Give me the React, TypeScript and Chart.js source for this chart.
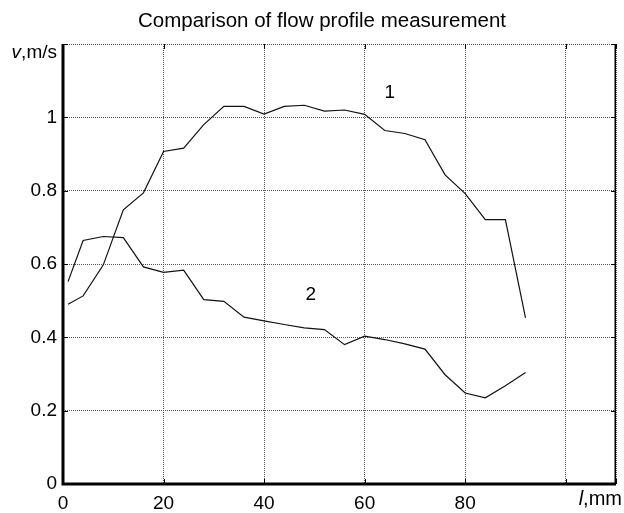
import React, { useEffect, useRef } from "react";
import { Chart, registerables } from "chart.js";

Chart.register(...registerables);

const xValues = [1, 4, 8, 12, 16, 20, 24, 28, 32, 36, 40, 44, 48, 52, 56, 60, 64, 68, 72, 76, 80, 84, 88, 92];
const series1 = [0.49, 0.513, 0.597, 0.748, 0.794, 0.907, 0.916, 0.98, 1.03, 1.03, 1.009, 1.03, 1.033, 1.017, 1.02, 1.008, 0.964, 0.956, 0.939, 0.843, 0.792, 0.721, 0.721, 0.453];
const series2 = [0.552, 0.664, 0.675, 0.672, 0.592, 0.577, 0.583, 0.503, 0.498, 0.455, 0.445, 0.435, 0.426, 0.421, 0.38, 0.403, 0.394, 0.382, 0.368, 0.298, 0.248, 0.235, 0.268, 0.304];
const xTickLabels = ["0", "20", "40", "60", "80"];
const yTickLabels = ["0", "0.2", "0.4", "0.6", "0.8", "1"];
const titleText = "Comparison of flow profile measurement";
const curveLabels = [
  { text: "1", x: 65, y: 1.053 },
  { text: "2", x: 49.3, y: 0.503 },
];

const FONT = "'Liberation Sans', Arial, Helvetica, sans-serif";

const decorPlugin = {
  id: "decor",
  afterDraw(chart: any) {
    const { ctx, chartArea } = chart;
    const xs = chart.scales.x;
    const ys = chart.scales.y;
    ctx.save();
    // inner tick marks on all sides
    ctx.strokeStyle = "#000";
    ctx.lineWidth = 1;
    const tl = 5;
    xs.ticks.forEach((t: any) => {
      const px = Math.round(xs.getPixelForValue(t.value)) + 0.5;
      ctx.beginPath();
      ctx.moveTo(px, chartArea.bottom);
      ctx.lineTo(px, chartArea.bottom - tl);
      ctx.moveTo(px, chartArea.top);
      ctx.lineTo(px, chartArea.top + tl);
      ctx.stroke();
    });
    ys.ticks.forEach((t: any) => {
      const py = Math.round(ys.getPixelForValue(t.value)) + 0.5;
      ctx.beginPath();
      ctx.moveTo(chartArea.left, py);
      ctx.lineTo(chartArea.left + tl, py);
      ctx.moveTo(chartArea.right, py);
      ctx.lineTo(chartArea.right - tl, py);
      ctx.stroke();
    });
    // borders
    ctx.lineWidth = 1.5;
    ctx.beginPath();
    ctx.moveTo(chartArea.right - 0.75, chartArea.top);
    ctx.lineTo(chartArea.right - 0.75, chartArea.bottom);
    ctx.stroke();
    ctx.lineWidth = 3;
    ctx.beginPath();
    ctx.moveTo(chartArea.left, chartArea.top);
    ctx.lineTo(chartArea.left, chartArea.bottom);
    ctx.lineTo(chartArea.right, chartArea.bottom);
    ctx.stroke();
    // title
    ctx.fillStyle = "#000";
    ctx.font = `20.5px ${FONT}`;
    ctx.textAlign = "center";
    ctx.textBaseline = "alphabetic";
    ctx.fillText(titleText, 322, 27);
    // curve labels
    ctx.font = `19px ${FONT}`;
    curveLabels.forEach((c) => {
      ctx.fillText(c.text, xs.getPixelForValue(c.x), ys.getPixelForValue(c.y));
    });
    // y axis label v,m/s
    ctx.textAlign = "left";
    const rest = ",m/s";
    ctx.font = `19px ${FONT}`;
    const wRest = ctx.measureText(rest).width;
    ctx.font = `italic 19px ${FONT}`;
    const wV = ctx.measureText("v").width;
    const yEnd = 57;
    const yBase = 58;
    ctx.fillText("v", yEnd - wRest - wV, yBase);
    ctx.font = `19px ${FONT}`;
    ctx.fillText(rest, yEnd - wRest, yBase);
    // x axis label l,mm
    ctx.font = `20px ${FONT}`;
    const restX = ",mm";
    const wRestX = ctx.measureText(restX).width;
    ctx.font = `italic 20px ${FONT}`;
    const wL = ctx.measureText("l").width;
    const xEnd = 622;
    const xBase = 505;
    ctx.fillText("l", xEnd - wRestX - wL, xBase);
    ctx.font = `20px ${FONT}`;
    ctx.fillText(restX, xEnd - wRestX, xBase);
    ctx.restore();
  },
};

export default function App() {
  const ref = useRef<HTMLCanvasElement | null>(null);
  useEffect(() => {
    if (!ref.current) return;
    const chart = new Chart(ref.current, {
      type: "line",
      data: {
        datasets: [
          {
            data: xValues.map((x, i) => ({ x, y: series1[i] })),
            borderColor: "#111",
            borderWidth: 1.2,
            pointRadius: 0,
            tension: 0,
            fill: false,
          },
          {
            data: xValues.map((x, i) => ({ x, y: series2[i] })),
            borderColor: "#111",
            borderWidth: 1.2,
            pointRadius: 0,
            tension: 0,
            fill: false,
          },
        ],
      },
      options: {
        responsive: false,
        animation: false,
        layout: { padding: { left: 0, top: 44, right: 3, bottom: 0 } },
        plugins: {
          legend: { display: false },
          title: { display: false },
          tooltip: { enabled: false },
        },
        scales: {
          x: {
            type: "linear",
            min: 0,
            max: 110,
            border: { display: false, dash: [1, 1] },
            grid: {
              color: "#555",
              lineWidth: 1,
              drawTicks: false,
            },
            ticks: {
              stepSize: 20,
              padding: 8,
              color: "#000",
              font: { family: FONT, size: 19 },
              maxRotation: 0,
              callback: (v: any) => {
                const i = Math.round(Number(v) / 20);
                return Number(v) % 20 === 0 && i < xTickLabels.length ? xTickLabels[i] : "";
              },
            },
            afterFit: (s: any) => {
              s.height = 29;
            },
          },
          y: {
            type: "linear",
            min: 0,
            max: 1.2,
            border: { display: false, dash: [1, 1] },
            grid: {
              color: "#555",
              lineWidth: 1,
              drawTicks: false,
            },
            ticks: {
              stepSize: 0.2,
              padding: 6,
              color: "#000",
              font: { family: FONT, size: 19 },
              callback: (v: any) => {
                const i = Math.round(Number(v) / 0.2);
                return i < yTickLabels.length ? yTickLabels[i] : "";
              },
            },
            afterFit: (s: any) => {
              s.width = 63;
            },
          },
        },
      },
      plugins: [decorPlugin],
    } as any);
    return () => chart.destroy();
  }, []);
  return (
    <div style={{ position: "fixed", left: 0, top: 0, width: 624, height: 513, background: "#fff" }}>
      <canvas ref={ref} width={624} height={513} style={{ width: 624, height: 513 }} />
    </div>
  );
}
